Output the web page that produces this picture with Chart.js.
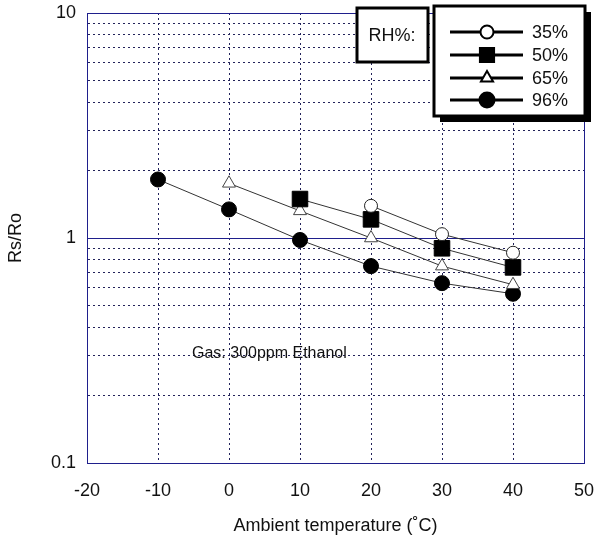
<!DOCTYPE html>
<html lang="en">
<head>
  <meta charset="UTF-8" />
  <title>Rs/Ro vs ambient temperature</title>
  <script src="https://cdn.jsdelivr.net/npm/chart.js"></script>
  <style>
    body {
      margin: 0;
      background: #fff;
    }
    #wrap {
      width: 596px;
      height: 538px;
    }
  </style>
</head>
<body>
  <div id="wrap"><canvas id="rsChart" width="596" height="538"></canvas></div>

  <script>
    // values
    const temps35 = [20, 30, 40];
    const rs35 = [1.39, 1.04, 0.86];
    const temps50 = [10, 20, 30, 40];
    const rs50 = [1.49, 1.21, 0.90, 0.74];
    const temps65 = [0, 10, 20, 30, 40];
    const rs65 = [1.75, 1.32, 1.00, 0.75, 0.62];
    const temps96 = [-10, 0, 10, 20, 30, 40];
    const rs96 = [1.82, 1.34, 0.98, 0.75, 0.63, 0.565];

    const rhLabels = ['35%', '50%', '65%', '96%'];
    const yTickLabels = [0.1, 1, 10];
    const yGridValues = [0.1, 0.2, 0.3, 0.4, 0.5, 0.6, 0.7, 0.8, 0.9,
                         1, 2, 3, 4, 5, 6, 7, 8, 9, 10];
    const xMin = -20, xMax = 50, xStep = 10;

    const NAVY = '#1f1f8c';
    const DOTS = '#23235a';
    Chart.defaults.font.family = "'Liberation Sans', Arial, sans-serif";
    Chart.defaults.color = '#111';

    const toPoints = (xs, ys) => xs.map((x, i) => ({ x: x, y: ys[i] }));

    const markers = [
      { pointStyle: 'circle', radius: 6.5, bg: '#fff', border: '#222' },
      { pointStyle: 'rect', radius: 11, bg: '#000', border: '#000' },
      { pointStyle: 'triangle', radius: 7.5, bg: '#fff', border: '#444' },
      { pointStyle: 'circle', radius: 7.5, bg: '#000', border: '#000' }
    ];
    const series = [
      toPoints(temps35, rs35),
      toPoints(temps50, rs50),
      toPoints(temps65, rs65),
      toPoints(temps96, rs96)
    ];

    const datasets = series.map((pts, i) => ({
      label: rhLabels[i],
      data: pts,
      showLine: true,
      borderColor: '#333',
      borderWidth: 1,
      pointStyle: markers[i].pointStyle,
      pointRadius: markers[i].radius,
      pointHoverRadius: markers[i].radius,
      pointBackgroundColor: markers[i].bg,
      pointBorderColor: markers[i].border,
      pointBorderWidth: 1
    }));

    // RH% boxes, legend and gas note
    const extras = {
      id: 'extras',
      afterDraw(chart) {
        const c = chart.ctx;
        const area = chart.chartArea;
        c.save();

        // "RH%:" box
        c.fillStyle = '#fff';
        c.fillRect(357, 8, 71, 54);
        c.lineWidth = 3;
        c.strokeStyle = '#000';
        c.strokeRect(357, 8, 71, 54);
        c.fillStyle = '#111';
        c.font = "18px 'Liberation Sans', Arial, sans-serif";
        c.textAlign = 'center';
        c.textBaseline = 'middle';
        c.fillText('RH%:', 392, 36);

        // legend box with shadow
        c.fillStyle = '#000';
        c.fillRect(440, 12, 151, 110);
        c.fillStyle = '#fff';
        c.fillRect(434, 6, 151, 110);
        c.strokeRect(434, 6, 151, 110);

        const rowY = [32, 55, 78, 100];
        rhLabels.forEach((lab, i) => {
          const y = rowY[i];
          c.lineWidth = 3;
          c.strokeStyle = '#000';
          c.beginPath();
          c.moveTo(450, y);
          c.lineTo(523, y);
          c.stroke();
          const m = markers[i];
          c.fillStyle = m.bg;
          c.strokeStyle = '#000';
          c.lineWidth = 2;
          let r = m.radius;
          if (m.pointStyle === 'rect') r = 10;
          if (m.pointStyle === 'triangle') r = 7;
          Chart.helpers.drawPoint(c, { pointStyle: m.pointStyle, radius: r, rotation: 0, borderWidth: 2 }, 487, y);
          c.fillStyle = '#111';
          c.textAlign = 'left';
          c.fillText(lab, 532, y + 1);
        });

        // gas note
        c.font = "16px 'Liberation Sans', Arial, sans-serif";
        c.textAlign = 'left';
        c.fillStyle = '#111';
        c.fillText('Gas: 300ppm Ethanol', area.left + 105, 354);
        c.restore();
      }
    };

    const isEdgeOrDecade = (scaleId, v) => {
      if (scaleId === 'x') return v === xMin || v === xMax;
      return yTickLabels.includes(v);
    };

    new Chart(document.getElementById('rsChart'), {
      type: 'scatter',
      data: { datasets: datasets },
      options: {
        responsive: false,
        animation: false,
        layout: { padding: { top: 13, right: 11, left: 0, bottom: 0 } },
        plugins: {
          legend: { display: false },
          tooltip: { enabled: false }
        },
        scales: {
          x: {
            type: 'linear',
            min: xMin,
            max: xMax,
            afterFit: s => {
              s.height = 75;
              s.paddingLeft = 0;
              s.paddingRight = 0;
            },
            ticks: {
              stepSize: xStep,
              padding: 17,
              font: { size: 18 },
              color: '#111'
            },
            grid: {
              drawTicks: false,
              color: ctx => (ctx.tick && isEdgeOrDecade('x', ctx.tick.value)) ? NAVY : DOTS
            },
            border: {
              color: NAVY,
              width: 1,
              dash: ctx => (ctx.tick && isEdgeOrDecade('x', ctx.tick.value)) ? [] : [2, 3]
            },
            title: {
              display: true,
              text: 'Ambient temperature (\u02DAC)',
              font: { size: 18 },
              color: '#111',
              padding: { top: 0, bottom: 1 }
            }
          },
          y: {
            type: 'logarithmic',
            min: 0.1,
            max: 10,
            afterFit: s => {
              s.width = 87;
              s.paddingTop = 0;
              s.paddingBottom = 0;
            },
            afterBuildTicks: s => { s.ticks = yGridValues.map(v => ({ value: v })); },
            ticks: {
              autoSkip: false,
              padding: 11,
              font: { size: 18 },
              color: '#111',
              callback: v => yTickLabels.includes(v) ? String(v) : ''
            },
            grid: {
              drawTicks: false,
              color: ctx => (ctx.tick && isEdgeOrDecade('y', ctx.tick.value)) ? NAVY : DOTS
            },
            border: {
              color: NAVY,
              width: 1,
              dash: ctx => (ctx.tick && isEdgeOrDecade('y', ctx.tick.value)) ? [] : [2, 3]
            },
            title: {
              display: true,
              text: 'Rs/Ro',
              font: { size: 18 },
              color: '#111',
              padding: { top: 5, bottom: 0 }
            }
          }
        }
      },
      plugins: [extras]
    });
  </script>
</body>
</html>
